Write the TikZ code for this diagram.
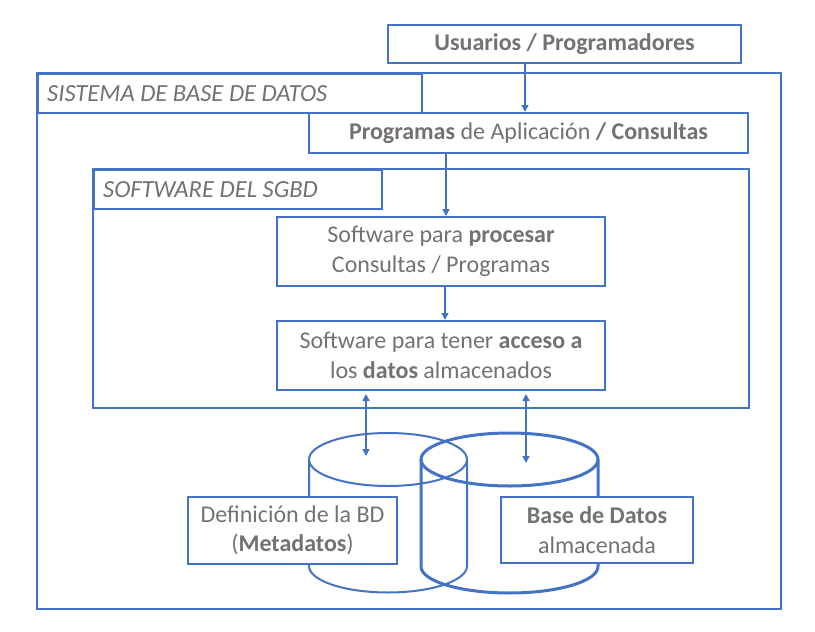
\documentclass[tikz,border=0pt]{standalone}
\usepackage{fontspec}
\setmainfont{Carlito}
\usetikzlibrary{arrows.meta,calc}
\definecolor{bl}{HTML}{4472C4}
\definecolor{tx}{HTML}{767171}
\begin{document}
\begin{tikzpicture}[x=1pt,y=-1pt,
  box/.style={draw=bl,line width=2pt,fill=white,text=tx,inner sep=0pt,align=center,
    font=\fontsize{24}{29.5}\selectfont},
  lbl/.style={draw=bl,line width=2pt,fill=white,inner sep=0pt},
  lbltext/.style={text=tx,inner sep=0pt,anchor=west,
    font=\fontsize{24.6}{29.5}\selectfont\itshape},
  frame/.style={draw=bl,line width=2pt},
  cyl/.style={draw=bl,line width=2pt},
  arr/.style={draw=bl,line width=1.5pt,-{Triangle[length=7pt,width=7pt]}},
  darr/.style={draw=bl,line width=1.5pt,{Triangle[length=7pt,width=7pt]}-{Triangle[length=7pt,width=7pt]}}]
\useasboundingbox (0,0) rectangle (815,632);
% outer frames
\draw[frame] (37,73) rectangle (781,609);
\draw[frame] (93,169) rectangle (749,408);
% label boxes
\node[lbl,minimum width=384pt,minimum height=39pt,anchor=north west] (sbd) at (37,73) {};
\node[lbltext] (sbdt) at ([xshift=10pt]sbd.west) {SISTEMA DE BASE DE DATOS};
\node[lbl,minimum width=288pt,minimum height=39pt,anchor=north west] (sgbd) at (93,169) {};
\node[lbltext] (sgbdt) at ([xshift=10pt]sgbd.west) {SOFTWARE DEL SGBD};
% boxes
\node[box,minimum width=353pt,minimum height=38pt] (usu) at (564.5,44) {\textbf{Usuarios / Programadores}};
\node[box,minimum width=439pt,minimum height=40pt] (prog) at (528.5,133) {\textbf{Programas} de Aplicación \textbf{/ Consultas}};
\node[box,minimum width=328pt,minimum height=69pt] (proc) at (441,251.5) {Software para \textbf{procesar}\\Consultas / Programas};
\node[box,minimum width=328pt,minimum height=69pt] (acc) at (441,355.5) {Software para tener \textbf{acceso a}\\los \textbf{datos} almacenados};
% cylinders
\draw[cyl] (388,459.5) ellipse[x radius=79,y radius=26.5];
\draw[cyl] (309,459.5) -- (309,566) arc[start angle=180,end angle=0,x radius=79,y radius=26.5] -- (467,459.5);
\draw[cyl,line width=3pt] (509.5,459.5) ellipse[x radius=88.5,y radius=26.5];
\draw[cyl,line width=3pt] (421,459.5) -- (421,566.5) arc[start angle=180,end angle=0,x radius=88.5,y radius=26.5] -- (598,459.5);
\node[box,minimum width=209pt,minimum height=67pt] (meta) at (292.5,530.5) {Definición de la BD\\(\textbf{Metadatos})};
\node[box,minimum width=192pt,minimum height=66pt] (bdat) at (597,530) {\textbf{Base de Datos}\\almacenada};
% connectors
\coordinate (m1) at (366,456);
\coordinate (b1) at (526,463);
\draw[arr] (usu.south -| 525,0) -- (prog.north -| 525,0);
\draw[arr] (prog.south -| 446,0) -- (proc.north -| 446,0);
\draw[arr] (proc.south -| 445,0) -- (acc.north -| 445,0);
\draw[darr,shorten <=3pt] (acc.south -| m1) -- (m1);
\draw[darr,shorten <=3pt] (acc.south -| b1) -- (b1);
\end{tikzpicture}
\end{document}
